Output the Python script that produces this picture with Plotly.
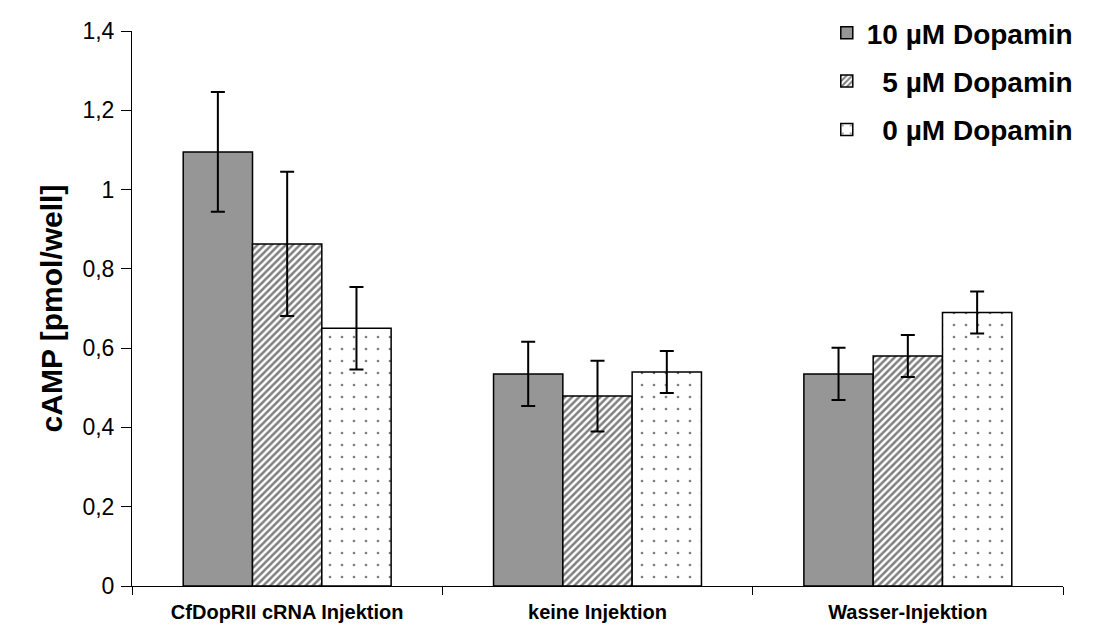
import plotly.graph_objects as go

categories = ["CfDopRII cRNA Injektion", "keine Injektion", "Wasser-Injektion"]
series_names = ["10 µM Dopamin", "\u00a0\u00a05 µM Dopamin", "\u00a0\u00a00 µM Dopamin"]
dop10 = [1.095, 0.535, 0.535]
err10 = [0.151, 0.081, 0.066]
dop5 = [0.863, 0.479, 0.580]
err5 = [0.182, 0.089, 0.053]
dop0 = [0.650, 0.540, 0.690]
err0 = [0.104, 0.053, 0.053]
y_tickvals = [0, 0.2, 0.4, 0.6, 0.8, 1.0, 1.2, 1.4]
y_ticktext = ["0", "0,2", "0,4", "0,6", "0,8", "1", "1,2", "1,4"]

FONT = "Liberation Sans, Arial, sans-serif"

def err(vals):
    return dict(type="data", array=vals, visible=True, color="black", thickness=2, width=7)

fig = go.Figure()
fig.add_trace(go.Bar(
    name=series_names[0], x=categories, y=dop10, error_y=err(err10),
    marker=dict(color="#969696", line=dict(color="black", width=1.5)),
    legendgroup="a"))
fig.add_trace(go.Bar(
    name=series_names[1], x=categories, y=dop5, error_y=err(err5),
    marker=dict(color="white", line=dict(color="black", width=1.5),
                pattern=dict(shape="/", fgcolor="black", bgcolor="white", size=5, solidity=0.5)),
    legendgroup="b"))
fig.add_trace(go.Bar(
    name=series_names[2], x=categories, y=dop0, error_y=err(err0),
    marker=dict(color="white", line=dict(color="black", width=1.5),
                pattern=dict(shape=".", fgcolor="black", bgcolor="white", size=12, solidity=0.04)),
    legendgroup="c"))

fig.update_layout(
    width=1102, height=628,
    margin=dict(l=124, r=47, t=23, b=50, autoexpand=False),
    paper_bgcolor="white", plot_bgcolor="white",
    barmode="group", bargap=0.33, bargroupgap=0,
    font=dict(family=FONT, color="black"),
    showlegend=True,
    legend=dict(xref="container", yref="container", x=0.743, y=1.0,
                xanchor="left", yanchor="top",
                font=dict(family=FONT, size=28, color="black", weight="bold"),
                bgcolor="rgba(0,0,0,0)", tracegroupgap=9, traceorder="grouped"),
    xaxis=dict(showline=True, linecolor="black", linewidth=1, automargin=False,
               ticks="outside", tickson="boundaries", ticklen=8, tickcolor="black",
               tickfont=dict(family=FONT, size=20, color="black", weight="bold"),
               ticklabelstandoff=8,
               showgrid=False, zeroline=False),
    yaxis=dict(range=[0, 1.4], showline=True, linecolor="black", linewidth=1, automargin=False,
               ticks="outside", ticklen=10, tickcolor="black",
               tickvals=y_tickvals, ticktext=y_ticktext,
               tickfont=dict(family=FONT, size=23, color="black"),
               ticklabelstandoff=2,
               showgrid=False, zeroline=False,
               title=dict(text="cAMP [pmol/well]", standoff=10,
                          font=dict(family=FONT, size=30, color="black", weight="bold"))),
)

fig.write_html("out.html")
